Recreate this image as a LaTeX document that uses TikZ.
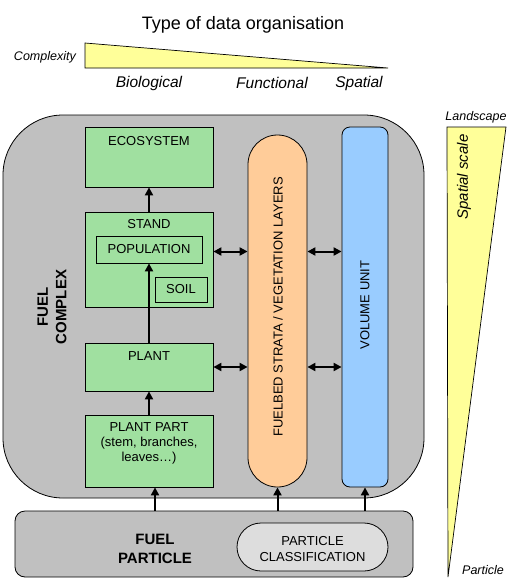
\documentclass[tikz,border=0pt]{standalone}
\usepackage{fontspec}
\setmainfont{Liberation Sans}
\usetikzlibrary{arrows.meta}
\definecolor{tyellow}{HTML}{FFFF99}
\definecolor{tgray}{HTML}{C0C0C0}
\definecolor{tgreen}{HTML}{A0E0A0}
\definecolor{torange}{HTML}{FFCC99}
\definecolor{tblue}{HTML}{99CCFF}
\definecolor{tlight}{HTML}{DDDDDD}
\tikzset{
  boxline/.style={draw=black, line width=0.8pt},
  greenbox/.style={boxline, fill=tgreen, inner sep=0pt},
  lbl/.style={font=\fontsize{13}{15}\selectfont, inner sep=0pt, align=center},
  blbl/.style={font=\bfseries\fontsize{15}{18.5}\selectfont, inner sep=0pt, align=center},
  ilbl/.style={font=\itshape\fontsize{15.5}{18}\selectfont, inner sep=0pt},
  islbl/.style={font=\itshape\fontsize{12.5}{15}\selectfont, inner sep=0pt},
  arr/.style={line width=2pt, -{Triangle[length=8pt,width=8pt]}},
  darr/.style={line width=2pt, {Triangle[length=8pt,width=8pt]}-{Triangle[length=8pt,width=8pt]}},
}
\begin{document}
\begin{tikzpicture}[x=1pt,y=-1pt]
\useasboundingbox (0,0) rectangle (507,579);

% title and complexity wedge
\node[font=\fontsize{18}{21}\selectfont, inner sep=0pt] (title) at (243,25) {Type of data organisation};
\draw[boxline, line width=0.7pt, fill=tyellow] (85,43) -- (388,68) -- (85,68) -- cycle;
\node[islbl, anchor=east] (cplx) at (76,57) {Complexity};
\node[ilbl] (bio) at (149,83) {Biological};
\node[ilbl] (fun) at (272,83) {Functional};
\node[ilbl] (spa) at (359,83) {Spatial};

% fuel complex
\draw[boxline, fill=tgray, rounded corners=60pt] (3,115) rectangle (424,498);
\node[blbl, rotate=90] (fc) at (52,307) {FUEL\\COMPLEX};

% green boxes
\node[greenbox, minimum width=128pt, minimum height=60pt] (eco) at (149,157) {};
\node[lbl] (ecot) at (149,141) {ECOSYSTEM};
\node[greenbox, minimum width=128pt, minimum height=95pt] (stand) at (149,259.5) {};
\node[lbl] (standt) at (149,224) {STAND};
\node[greenbox, minimum width=106pt, minimum height=27pt] (pop) at (149,249.5) {};
\node[lbl] (popt) at (149,249.5) {POPULATION};
\node[greenbox, minimum width=52pt, minimum height=25pt] (soil) at (181,289.5) {};
\node[lbl] (soilt) at (181,289.5) {SOIL};
\node[greenbox, minimum width=128pt, minimum height=48pt] (plant) at (149,367) {};
\node[lbl] (plantt) at (149,356) {PLANT};
\node[greenbox, minimum width=128pt, minimum height=72pt] (pp) at (149,451) {};
\node[lbl, font=\fontsize{13}{15}\selectfont] (ppt) at (149,443) {PLANT PART\\(stem, branches,\\leaves…)};

% strata and volume
\node[boxline, fill=torange, minimum width=59pt, minimum height=352pt, rounded corners=29.5pt, inner sep=0pt] (strata) at (277.5,311) {};
\node[lbl, rotate=90] (stratat) at (278,307) {FUELBED STRATA / VEGETATION LAYERS};
\node[boxline, fill=tblue, minimum width=46pt, minimum height=360pt, rounded corners=8pt, inner sep=0pt] (vol) at (365,307) {};
\node[lbl, rotate=90] (volt) at (365,305) {VOLUME UNIT};

% fuel particle
\node[boxline, fill=tgray, minimum width=398pt, minimum height=66pt, rounded corners=10pt, inner sep=0pt] (fp) at (214,544) {};
\node[blbl] (fpt) at (155,549) {FUEL\\PARTICLE};
\node[boxline, fill=tlight, minimum width=151pt, minimum height=48pt, rounded corners=24pt, inner sep=0pt] (pc) at (312.5,547) {};
\node[lbl, font=\fontsize{13}{16}\selectfont] (pct) at (312.5,549) {PARTICLE\\CLASSIFICATION};

% arrows
\draw[arr] (pp.north) -- (plant.south);
\draw[arr] (plant.north) -- (pop.south);
\draw[arr] (stand.north) -- (eco.south);
\draw[arr] ([xshift=6pt]pp.south |- fp.north) -- ([xshift=6pt]pp.south);
\draw[arr] (strata.south |- fp.north) -- (strata.south);
\draw[arr] (vol.south |- fp.north) -- (vol.south);
\draw[darr] ([yshift=-2pt]stand.east |- pop.east) -- ([yshift=-2pt]pop.east -| strata.west);
\draw[darr] ([yshift=-2pt]strata.east |- pop.east) -- ([yshift=-2pt]pop.east -| vol.west);
\draw[darr] (plant.east) -- (plant.east -| strata.west);
\draw[darr] (plant.east -| strata.east) -- (plant.east -| vol.west);

% spatial scale wedge
\draw[boxline, line width=0.7pt, fill=tyellow] (447,127) -- (506,127) -- (448,577) -- cycle;
\node[islbl] (land) at (476,117) {Landscape};
\node[ilbl, font=\itshape\fontsize{15}{18}\selectfont, rotate=90] (ss) at (464,177) {Spatial scale};
\node[islbl] (part) at (483,570) {Particle};
\end{tikzpicture}
\end{document}
